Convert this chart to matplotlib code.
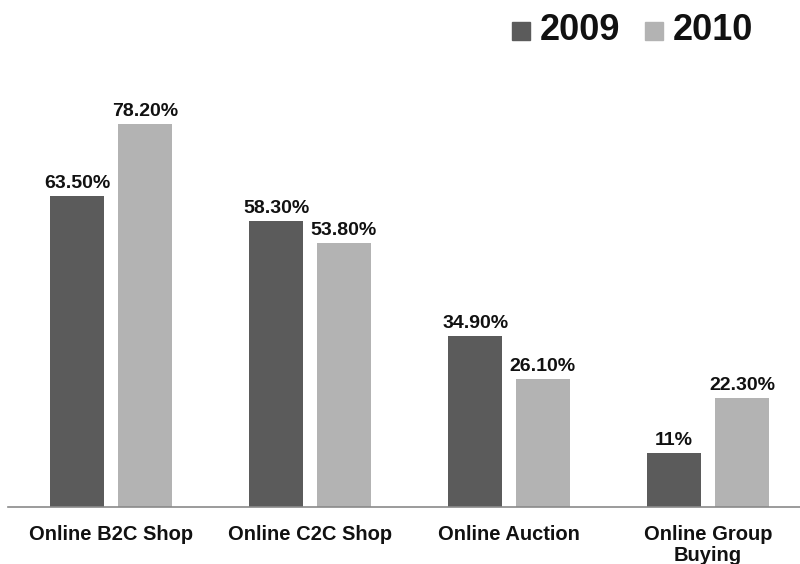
import matplotlib.pyplot as plt
from matplotlib.patches import Rectangle
import numpy as np

plt.rcParams['font.family'] = ['Liberation Sans', 'DejaVu Sans']

categories = ['Online B2C Shop', 'Online C2C Shop', 'Online Auction', 'Online Group\nBuying']
years = ['2009', '2010']
vals_2009 = [63.5, 58.3, 34.9, 11.0]
vals_2010 = [78.2, 53.8, 26.1, 22.3]
labels_2009 = ['63.50%', '58.30%', '34.90%', '11%']
labels_2010 = ['78.20%', '53.80%', '26.10%', '22.30%']

c_dark = '#5b5b5b'
c_light = '#b3b3b3'

fig = plt.figure(figsize=(8, 5.64), dpi=100)
ax = fig.add_axes([0.01, 1 - 507 / 564, 0.99, (507 - 80) / 564])

x = np.arange(len(categories))
w = 0.27
off = 0.17
b1 = ax.bar(x - off, vals_2009, w, color=c_dark)
b2 = ax.bar(x + off, vals_2010, w, color=c_light)

for bars, labs in ((b1, labels_2009), (b2, labels_2010)):
    for b, t in zip(bars, labs):
        ax.annotate(t, (b.get_x() + b.get_width() / 2, b.get_height()),
                    xytext=(0, 3), textcoords='offset points',
                    ha='center', va='bottom', fontsize=14, fontweight='bold', color='#111111')

ax.set_xlim(-0.518, 3.462)
ax.set_ylim(0, (507 - 80) / 4.9)
for s in ['top', 'right', 'left']:
    ax.spines[s].set_visible(False)
ax.spines['bottom'].set_color('#8a8a8a')
ax.spines['bottom'].set_linewidth(1.2)
ax.set_yticks([])
ax.set_xticks(x)
ax.set_xticklabels(categories, fontsize=14.5, fontweight='bold', color='#111111', linespacing=1.15)
ax.tick_params(axis='x', length=0, pad=13)

# legend drawn by hand
for (x0, xt), c, yr in zip(((512, 540), (645, 673)), (c_dark, c_light), years):
    fig.add_artist(Rectangle((x0 / 800, 1 - 40 / 564), 18 / 800, 18 / 564,
                             transform=fig.transFigure, color=c))
    fig.text(xt / 800, 1 - 31 / 564, yr, fontsize=26, fontweight='bold',
             va='center', ha='left', color='#111111')

fig.savefig('out.png', dpi=100)
